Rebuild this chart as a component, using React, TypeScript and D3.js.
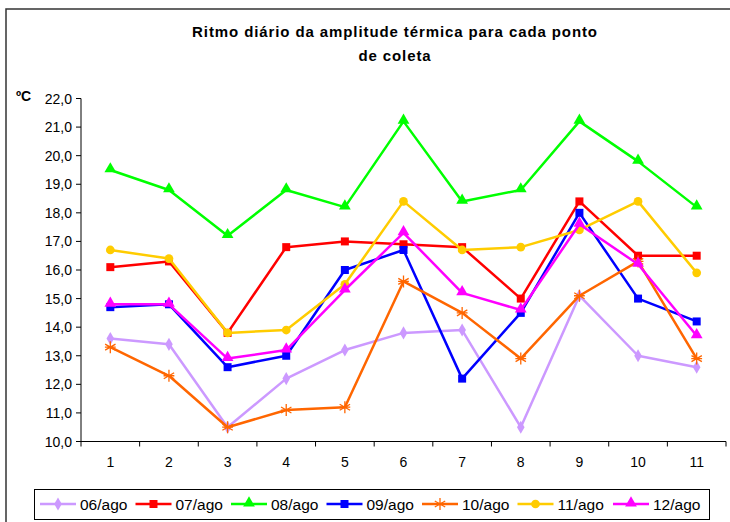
import * as d3 from "d3"

const categories = ["1", "2", "3", "4", "5", "6", "7", "8", "9", "10", "11"]
const seriesNames = ["06/ago", "07/ago", "08/ago", "09/ago", "10/ago", "11/ago", "12/ago"]

const ago06 = [13.6, 13.4, 10.5, 12.2, 13.2, 13.8, 13.9, 10.5, 15.1, 13.0, 12.6]
const ago07 = [16.1, 16.3, 13.8, 16.8, 17.0, 16.9, 16.8, 15.0, 18.4, 16.5, 16.5]
const ago08 = [19.5, 18.8, 17.2, 18.8, 18.2, 21.2, 18.4, 18.8, 21.2, 19.8, 18.2]
const ago09 = [14.7, 14.8, 12.6, 13.0, 16.0, 16.7, 12.2, 14.5, 18.0, 15.0, 14.2]
const ago10 = [13.3, 12.3, 10.5, 11.1, 11.2, 15.6, 14.5, 12.9, 15.1, 16.3, 12.9]
const ago11 = [16.7, 16.4, 13.8, 13.9, 15.5, 18.4, 16.7, 16.8, 17.4, 18.4, 15.9]
const ago12 = [14.8, 14.8, 12.9, 13.2, 15.3, 17.3, 15.2, 14.6, 17.6, 16.2, 13.7]

const yTicks = [10, 11, 12, 13, 14, 15, 16, 17, 18, 19, 20, 21, 22]

const seriesValues = [ago06, ago07, ago08, ago09, ago10, ago11, ago12]
const colors = ["#CC99FF", "#FF0000", "#00FF00", "#0000FF", "#FF6600", "#FFCC00", "#FF00FF"]
const markers = ["diamond", "square", "triangle", "square", "star", "circle", "triangle"]

const font = "'Liberation Sans', Arial, sans-serif"

function Marker({ kind, x, y, color }: { kind: string; x: number; y: number; color: string }) {
  if (kind === "star") {
    const r = 6
    const d = [0, 60, 120].map((a) => {
      const rad = (a * Math.PI) / 180
      const dx = r * Math.cos(rad + Math.PI / 2)
      const dy = r * Math.sin(rad + Math.PI / 2)
      return `M${x - dx},${y - dy}L${x + dx},${y + dy}`
    })
    d.push(`M${x - r * 0.9},${y}L${x + r * 0.9},${y}`)
    return <path d={d.join("")} stroke={color} strokeWidth={1.3} fill="none" />
  }
  const type =
    kind === "diamond"
      ? d3.symbolDiamond
      : kind === "square"
        ? d3.symbolSquare
        : kind === "triangle"
          ? d3.symbolTriangle
          : d3.symbolCircle
  const size = kind === "diamond" ? 50 : kind === "circle" ? 60 : kind === "triangle" ? 60 : 64
  const d = d3.symbol().type(type).size(size)() || ""
  return <path d={d} transform={`translate(${x},${kind === "triangle" ? y - 1 : y})`} fill={color} />
}

export default function App() {
  const width = 730
  const height = 522
  const left = 81
  const right = 726
  const top = 98.5
  const bottom = 441.5

  const x = d3.scaleBand().domain(categories).range([left, right])
  const y = d3.scaleLinear().domain([10, 22]).range([bottom, top])
  const cx = (c: string) => (x(c) || 0) + x.bandwidth() / 2

  const line = d3
    .line<number>()
    .x((_, i) => cx(categories[i]))
    .y((d) => y(d))

  const legendX = d3.scaleBand().domain(seriesNames).range([40, 613 + 95.5])

  return (
    <>
      <style>{`body{margin:0}`}</style>
      <svg width={width} height={height} style={{ display: "block", fontFamily: font }}>
        <rect x={0} y={0} width={width} height={height} fill="#fff" />
        <rect x={6} y={9} width={740} height={530} fill="none" stroke="#333" strokeWidth={1.5} />

        <text x={395} y={37} textAnchor="middle" fontSize={15} fontWeight="bold" letterSpacing={0.9} fill="#000">
          Ritmo diário da amplitude térmica para cada ponto
        </text>
        <text x={395} y={61} textAnchor="middle" fontSize={15} fontWeight="bold" letterSpacing={0.9} fill="#000">
          de coleta
        </text>
        <text x={16} y={101} fontSize={14} fontWeight="bold" fill="#000">
          ºC
        </text>

        {/* y axis */}
        <line x1={left} x2={left} y1={top} y2={bottom} stroke="#000" />
        {yTicks.map((t) => (
          <g key={t}>
            <line x1={left - 5} x2={left} y1={y(t)} y2={y(t)} stroke="#000" />
            <text x={72} y={y(t) + 5} textAnchor="end" fontSize={14} fill="#000">
              {d3.format(".1f")(t).replace(".", ",")}
            </text>
          </g>
        ))}

        {/* x axis */}
        <line x1={left} x2={right} y1={bottom} y2={bottom} stroke="#000" />
        {categories.map((c) => (
          <g key={c}>
            <line x1={x(c) || 0} x2={x(c) || 0} y1={bottom} y2={bottom + 5} stroke="#000" />
            <text x={cx(c)} y={467} textAnchor="middle" fontSize={14} fill="#000">
              {c}
            </text>
          </g>
        ))}
        <line x1={right} x2={right} y1={bottom} y2={bottom + 5} stroke="#000" />

        {/* series */}
        {seriesValues.map((vals, s) => (
          <g key={seriesNames[s]}>
            <path d={line(vals) || ""} fill="none" stroke={colors[s]} strokeWidth={2.5} strokeLinejoin="round" />
            {vals.map((v, i) => (
              <Marker key={i} kind={markers[s]} x={cx(categories[i])} y={y(v)} color={colors[s]} />
            ))}
          </g>
        ))}

        {/* legend */}
        <rect x={34.5} y={489.5} width={675} height={30} fill="#fff" stroke="#000" strokeWidth={1} />
        {seriesNames.map((name, s) => {
          const lx = legendX(name) || 0
          return (
            <g key={name}>
              <line x1={lx} x2={lx + 36} y1={504} y2={504} stroke={colors[s]} strokeWidth={2.5} />
              <Marker kind={markers[s]} x={lx + 18} y={504} color={colors[s]} />
              <text x={lx + 40} y={509.5} fontSize={15.5} fill="#000">
                {name}
              </text>
            </g>
          )
        })}
      </svg>
    </>
  )
}
